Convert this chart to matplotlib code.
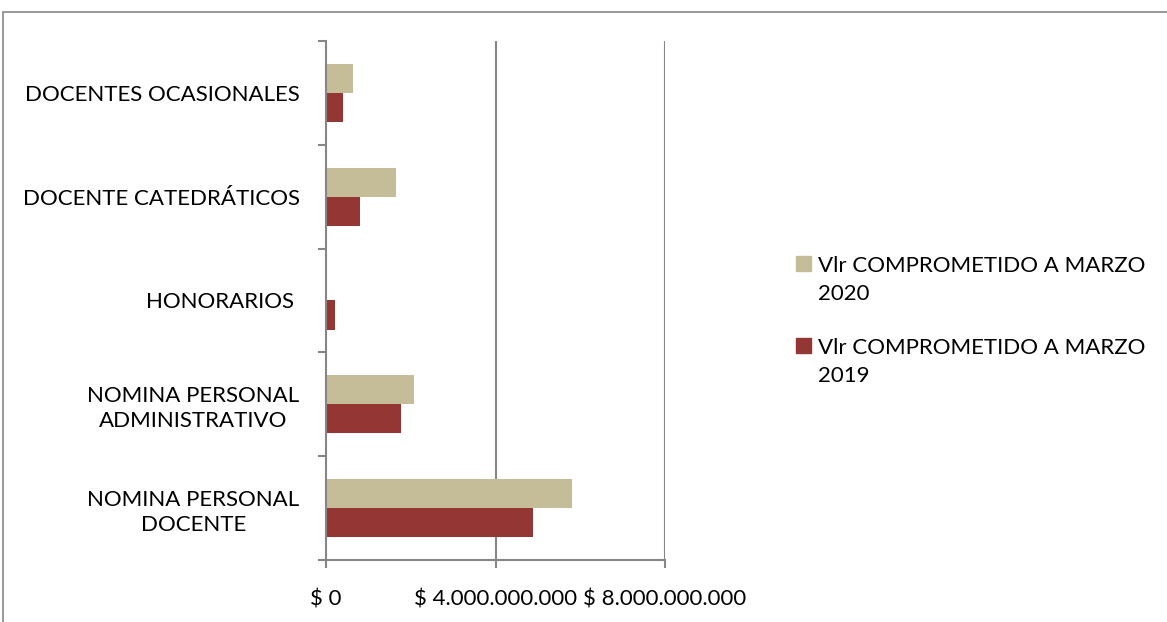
import matplotlib
matplotlib.use("Agg")
import matplotlib.pyplot as plt
import matplotlib.patches as mpatches
import numpy as np

# categories bottom -> top
categorias = ["NOMINA PERSONAL\nDOCENTE", "NOMINA PERSONAL\nADMINISTRATIVO", "HONORARIOS ",
              "DOCENTE CATEDRÁTICOS", "DOCENTES OCASIONALES"]
vlr_2020 = [5.80e9, 2.07e9, 0.0, 1.65e9, 0.64e9]
vlr_2019 = [4.89e9, 1.78e9, 0.21e9, 0.80e9, 0.41e9]
series = ["Vlr COMPROMETIDO A MARZO\n2020", "Vlr COMPROMETIDO A MARZO\n2019"]
xticks = [0, 4e9, 8e9]
xlabels = ["$ 0", "$ 4.000.000.000", "$ 8.000.000.000"]

c2020 = "#C4BD97"
c2019 = "#943634"
gris = "#868686"

plt.rcParams['font.family'] = ['Lato', 'DejaVu Sans']

W, H = 1167, 622
fig = plt.figure(figsize=(W/100, H/100), dpi=100)
ax = fig.add_axes([326/W, 1-560/H, (665-326)/W, (560-41)/H])

y = np.arange(len(categorias))
h = 0.28
ax.barh(y + h/2, vlr_2020, height=h, color=c2020)
ax.barh(y - h/2, vlr_2019, height=h, color=c2019)

ax.set_xlim(0, 8e9)
ax.set_ylim(-0.5, len(categorias) - 0.5)

# gridlines
for v in xticks[1:]:
    ax.axvline(v, color=gris, lw=1.5, zorder=0)

ax.set_xticks(xticks)
ax.set_xticklabels(xlabels, fontsize=16)
ax.tick_params(axis='x', length=6, width=1.5, color=gris, pad=15)

ax.set_yticks(np.arange(len(categorias) + 1) - 0.5)
ax.set_yticklabels([])
ax.set_yticks(y, minor=True)
ax.set_yticklabels(categorias, minor=True, fontsize=16, multialignment='center', linespacing=1.3)
ax.tick_params(axis='y', which='major', length=6, width=1.5, color=gris)
ax.tick_params(axis='y', which='minor', length=0, pad=19)

for s in ['top', 'right']:
    ax.spines[s].set_visible(False)
for s in ['left', 'bottom']:
    ax.spines[s].set_color(gris)
    ax.spines[s].set_linewidth(1.5)

# chart border
fig.patches.append(mpatches.Rectangle((3/W, -0.1), 1.2, 1 - 12/H + 0.1, transform=fig.transFigure,
                                      fill=False, edgecolor=gris, lw=1.2))

# legend (square aligned with first line of label)
for lab, col, yc in zip(series, [c2020, c2019], [263, 345]):
    fig.patches.append(mpatches.Rectangle((796/W, 1-(yc+7.5)/H), 15/W, 15/H,
                                          transform=fig.transFigure, color=col))
    fig.text(818/W, 1-(yc+17)/H, lab, fontsize=16, va='center', ha='left', linespacing=1.55)

fig.savefig("out.png", dpi=100)
